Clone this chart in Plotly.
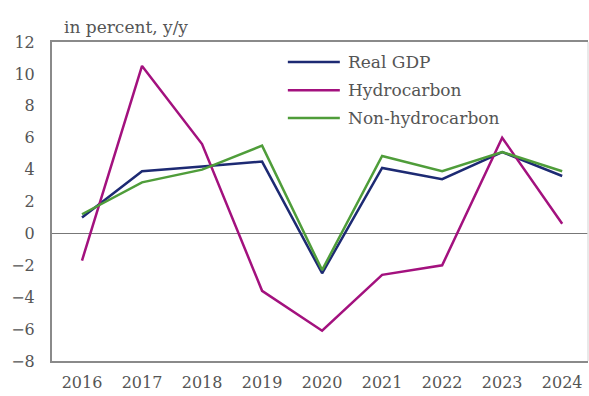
import plotly.graph_objects as go

years = [2016, 2017, 2018, 2019, 2020, 2021, 2022, 2023, 2024]
real_gdp = [1.0, 3.9, 4.2, 4.5, -2.5, 4.1, 3.4, 5.1, 3.6]
hydrocarbon = [-1.7, 10.5, 5.6, -3.6, -6.1, -2.6, -2.0, 6.0, 0.6]
non_hydrocarbon = [1.2, 3.2, 4.0, 5.5, -2.3, 4.85, 3.9, 5.1, 3.9]
y_ticks = [-8, -6, -4, -2, 0, 2, 4, 6, 8, 10, 12]

FONT = "DejaVu Serif"
TEXT = "#555555"
AXIS = "#8a8a8a"

series = [
    ("Real GDP", real_gdp, "#1d2a73"),
    ("Hydrocarbon", hydrocarbon, "#a3117e"),
    ("Non-hydrocarbon", non_hydrocarbon, "#4f9d3a"),
]

fig = go.Figure()
for name, vals, color in series:
    fig.add_trace(go.Scatter(
        x=years, y=vals, name=name, mode="lines",
        line=dict(color=color, width=2.5), showlegend=False,
    ))

# Legend drawn as paper-space key lines with labels
shapes = []
annotations = []
legend_rows = [0.937, 0.849, 0.762]
for (name, _, color), ly in zip(series, legend_rows):
    shapes.append(dict(
        type="line", xref="paper", yref="paper",
        x0=0.440, x1=0.537, y0=ly, y1=ly,
        line=dict(color=color, width=2.5),
    ))
    annotations.append(dict(
        text=name, xref="paper", yref="paper", x=0.548, y=ly,
        xanchor="left", yanchor="middle", showarrow=False,
        font=dict(family=FONT, size=17, color=TEXT),
    ))

# faint right-hand frame edge
shapes.append(dict(
    type="line", xref="paper", yref="paper", x0=1, x1=1, y0=0, y1=1,
    line=dict(color="#e2e2e2", width=1.5),
))

annotations.append(dict(
    text="in percent, y/y", xref="paper", yref="paper",
    x=0.019, y=1.0, xanchor="left", yanchor="bottom", yshift=3,
    showarrow=False, font=dict(family=FONT, size=17, color=TEXT),
))

fig.update_layout(
    width=589, height=396,
    margin=dict(l=52, r=1, t=42, b=35),
    paper_bgcolor="white", plot_bgcolor="white",
    font=dict(family=FONT, size=16, color=TEXT),
    showlegend=False,
    shapes=shapes,
    annotations=annotations,
)

fig.update_xaxes(
    range=[2015.5, 2024.43], tickvals=years, ticktext=[str(y) for y in years],
    showgrid=False, zeroline=False, ticks="",
    showline=True, linecolor=AXIS, linewidth=2, mirror=True,
    tickfont=dict(family=FONT, size=16, color=TEXT),
    ticklabelstandoff=6,
)
fig.update_yaxes(
    range=[-8, 12], tickvals=y_ticks, showgrid=False,
    zeroline=True, zerolinecolor="#777777", zerolinewidth=1.2,
    showline=True, linecolor=AXIS, linewidth=2, mirror=False, ticks="",
    tickfont=dict(family=FONT, size=16, color=TEXT),
    ticklabelstandoff=12,
)

fig.write_html("out.html")
